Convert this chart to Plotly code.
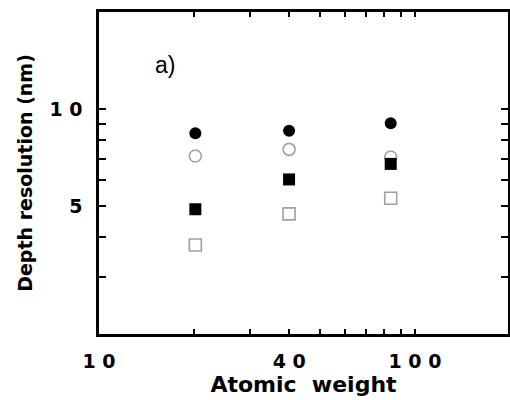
import plotly.graph_objects as go
import math

# Data (atomic weight vs depth resolution)
atomic_weight = [20.18, 39.95, 83.8]
filled_circle = [8.40, 8.56, 9.02]
open_circle = [7.14, 7.49, 7.09]
filled_square = [4.88, 6.04, 6.75]
open_square = [3.78, 4.72, 5.28]

x_tickvals = [10, 20, 30, 40, 50, 60, 70, 80, 90, 100]
x_ticktext = ["1 0", "", "", "4 0", "", "", "", "", "", "1 0 0"]
y_tickvals = [3, 4, 5, 6, 7, 8, 9, 10]
y_ticktext = ["", "", "5", "", "", "", "", "1 0"]

font_family = "DejaVu Sans, Liberation Sans, Arial, sans-serif"

fig = go.Figure()
fig.add_trace(go.Scatter(x=atomic_weight, y=open_circle, mode="markers", name="open circles",
                         marker=dict(symbol="circle-open", size=12, color="#a0a0a0", line=dict(width=1.6, color="#a0a0a0"))))
fig.add_trace(go.Scatter(x=atomic_weight, y=open_square, mode="markers", name="open squares",
                         marker=dict(symbol="square-open", size=12, color="#a0a0a0", line=dict(width=1.6, color="#a0a0a0"))))
fig.add_trace(go.Scatter(x=atomic_weight, y=filled_circle, mode="markers", name="filled circles",
                         marker=dict(symbol="circle", size=12, color="black")))
fig.add_trace(go.Scatter(x=atomic_weight, y=filled_square, mode="markers", name="filled squares",
                         marker=dict(symbol="square", size=12, color="black")))

fig.update_layout(
    width=510, height=400, autosize=False,
    margin=dict(l=99, r=2, t=12, b=66, autoexpand=False),
    paper_bgcolor="white", plot_bgcolor="white",
    showlegend=False,
    font=dict(family=font_family, color="black"),
    xaxis=dict(
        type="log", range=[1, math.log10(197)],
        tickmode="array", tickvals=x_tickvals, ticktext=x_ticktext,
        ticks="inside", ticklen=5, tickwidth=2, tickcolor="black",
        showline=True, linewidth=2.5, linecolor="black", mirror="ticks",
        showgrid=False, zeroline=False, ticklabelstandoff=8,
        tickfont=dict(size=19, weight="bold", family=font_family),
        title=dict(text="Atomic\u00a0 weight", font=dict(size=22, weight="bold", family=font_family), standoff=7),
    ),
    yaxis=dict(
        type="log", range=[math.log10(2), math.log10(20)],
        tickmode="array", tickvals=y_tickvals, ticktext=y_ticktext,
        ticks="inside", ticklen=7, tickwidth=2, tickcolor="black",
        showline=True, linewidth=2.5, linecolor="black", mirror="ticks",
        showgrid=False, zeroline=False, ticklabelstandoff=10,
        tickfont=dict(size=19, weight="bold", family=font_family),
        title=dict(text="Depth resolution (nm)", font=dict(size=19, weight="bold", family=font_family), standoff=12),
    ),
    annotations=[dict(text="a)", x=0.161, y=0.835, xref="paper", yref="paper",
                      xanchor="center", yanchor="middle",
                      showarrow=False, font=dict(size=23, family="Liberation Sans, Arial, sans-serif", color="black"))],
)

fig.write_html("out.html")
